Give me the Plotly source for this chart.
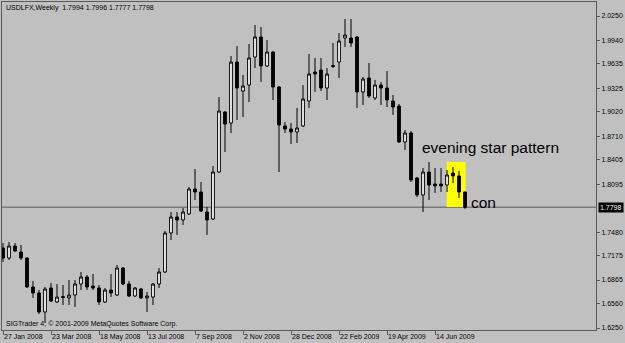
import plotly.graph_objects as go
import pandas as pd

week_start = "2008-01-27"

opens = [1.7276, 1.7147, 1.7301, 1.7224, 1.7147, 1.6776, 1.6699, 1.6455, 1.6763, 1.6583,
         1.6654, 1.6635, 1.6673, 1.6814, 1.6904, 1.6788, 1.6763, 1.6583, 1.6737, 1.6673,
         1.7019, 1.6814, 1.6660, 1.6750, 1.6635, 1.6647, 1.6814, 1.6968, 1.7468, 1.7673,
         1.7635, 1.7712, 1.8032, 1.7994, 1.7737, 1.7647, 1.8250, 1.9019, 1.8878, 1.9660,
         1.9288, 1.9365, 1.9724, 1.9981, 1.9609, 1.9788, 1.9340, 1.8840, 1.8801, 1.8763,
         1.8840, 1.9160, 1.9532, 1.9558, 1.9327, 1.9615, 1.9660, 1.9968, 1.9968, 1.9981,
         1.9276, 1.9455, 1.9199, 1.9365, 1.9327, 1.9160, 1.9096, 1.8635, 1.8750, 1.8173,
         1.7955, 1.8250, 1.8096, 1.8096, 1.8083, 1.8237, 1.8199, 1.7994]

highs = [1.7340, 1.7353, 1.7340, 1.7314, 1.7160, 1.6853, 1.6737, 1.6776, 1.6827, 1.6814,
         1.6801, 1.6865, 1.6865, 1.6968, 1.6929, 1.6942, 1.6801, 1.6763, 1.6942, 1.7058,
         1.7032, 1.6853, 1.6776, 1.6763, 1.6712, 1.6827, 1.7019, 1.7494, 1.7737, 1.7737,
         1.7788, 1.8058, 1.8288, 1.8122, 1.7801, 1.8327, 1.9212, 1.9032, 1.9737, 1.9865,
         1.9494, 1.9891, 2.0135, 2.0109, 1.9942, 1.9801, 1.9353, 1.8891, 1.8878, 1.9071,
         1.9365, 1.9763, 1.9712, 1.9712, 1.9583, 1.9904, 2.0032, 2.0212, 2.0212, 1.9994,
         1.9468, 1.9647, 1.9429, 1.9404, 1.9545, 1.9237, 1.9122, 1.8788, 1.8776, 1.8186,
         1.8301, 1.8378, 1.8301, 1.8301, 1.8276, 1.8314, 1.8263, 1.7996]

lows = [1.7096, 1.7122, 1.7224, 1.7122, 1.6763, 1.6635, 1.6429, 1.6314, 1.6583, 1.6571,
        1.6545, 1.6545, 1.6519, 1.6737, 1.6737, 1.6737, 1.6545, 1.6571, 1.6647, 1.6660,
        1.6801, 1.6647, 1.6647, 1.6622, 1.6455, 1.6545, 1.6763, 1.6955, 1.7378, 1.7442,
        1.7571, 1.7699, 1.7891, 1.7737, 1.7442, 1.7635, 1.8237, 1.8506, 1.8750, 1.8917,
        1.8955, 1.9147, 1.9583, 1.9404, 1.9596, 1.9173, 1.8250, 1.8750, 1.8609, 1.8622,
        1.8827, 1.9071, 1.9276, 1.9288, 1.9173, 1.9583, 1.9455, 1.9853, 1.9853, 1.9071,
        1.9109, 1.9199, 1.9173, 1.9109, 1.9083, 1.8981, 1.8622, 1.8532, 1.8122, 1.7929,
        1.7737, 1.7891, 1.7981, 1.7994, 1.7994, 1.8109, 1.7917, 1.7777]

closes = [1.7147, 1.7301, 1.7237, 1.7147, 1.6776, 1.6699, 1.6455, 1.6750, 1.6596, 1.6647,
          1.6641, 1.6673, 1.6814, 1.6904, 1.6776, 1.6763, 1.6583, 1.6737, 1.6699, 1.7019,
          1.6814, 1.6660, 1.6763, 1.6635, 1.6660, 1.6814, 1.6968, 1.7468, 1.7673, 1.7635,
          1.7737, 1.8032, 1.7994, 1.7750, 1.7635, 1.8250, 1.9032, 1.8865, 1.9660, 1.9327,
          1.9353, 1.9712, 1.9981, 1.9609, 1.9788, 1.9340, 1.8853, 1.8801, 1.8763, 1.8814,
          1.9186, 1.9506, 1.9506, 1.9327, 1.9506, 1.9603, 1.9929, 2.0006, 1.9904, 1.9276,
          1.9442, 1.9224, 1.9365, 1.9327, 1.9173, 1.9083, 1.8635, 1.8750, 1.8147, 1.7955,
          1.8250, 1.8083, 1.8071, 1.8071, 1.8212, 1.8199, 1.7994, 1.7798]

x_tick_labels = ["27 Jan 2008", "23 Mar 2008", "18 May 2008", "13 Jul 2008", "7 Sep 2008",
                 "2 Nov 2008", "28 Dec 2008", "22 Feb 2009", "19 Apr 2009", "14 Jun 2009"]
price_ticks = [2.0250, 1.9940, 1.9635, 1.9325, 1.9020, 1.8710, 1.8405, 1.8095,
               1.7480, 1.7175, 1.6865, 1.6560, 1.6250]
last_price = 1.7798
header = "USDLFX,Weekly  1.7994 1.7996 1.7777 1.7798"
copyright_text = "SIGTrader 4, © 2001-2009 MetaQuotes Software Corp."

dates = pd.date_range(week_start, periods=len(opens), freq="7D")
tick_dates = list(dates[::8])
wk = pd.Timedelta(days=7)

BG = "#C0C0C0"
FRAME = "#5A5A5A"
FONT = "Liberation Sans"

fig = go.Figure(go.Candlestick(
    x=dates, open=opens, high=highs, low=lows, close=closes,
    increasing=dict(line=dict(color="black", width=1), fillcolor="white"),
    decreasing=dict(line=dict(color="black", width=1), fillcolor="black"),
    whiskerwidth=0, showlegend=False, hoverinfo="none",
))

x0 = dates[0] - pd.Timedelta(days=1.17)
x1 = dates[0] + wk * 98.83

fig.update_layout(
    width=625, height=343,
    margin=dict(l=2, r=29, t=2, b=13, autoexpand=False),
    paper_bgcolor=BG, plot_bgcolor=BG,
    font=dict(family=FONT, size=7, color="black"),
    showlegend=False,
    boxgap=0.35,
    xaxis=dict(
        type="date", range=[x0, x1], rangeslider=dict(visible=False),
        tickvals=tick_dates, ticktext=x_tick_labels, tickangle=0, automargin=False,
        ticks="outside", ticklen=4, tickcolor=FRAME, tickwidth=1,
        ticklabelposition="outside right",
        showline=True, linecolor=FRAME, linewidth=1, mirror=True,
        showgrid=False, zeroline=False,
        tickfont=dict(family=FONT, size=7, color="black"),
    ),
    yaxis=dict(
        side="right", range=[1.62244, 2.04295], automargin=False,
        tickvals=price_ticks, ticktext=[f"{v:.4f}" for v in price_ticks],
        ticks="outside", ticklen=3, tickcolor=FRAME, tickwidth=1,
        showline=True, linecolor=FRAME, linewidth=1, mirror=True,
        showgrid=False, zeroline=False,
        tickfont=dict(family=FONT, size=7, color="black"),
    ),
    shapes=[
        dict(type="rect", xref="x", yref="y",
             x0=dates[74] - wk * 0.05, x1=dates[76] + wk * 1.1,
             y0=1.7801, y1=1.8378, fillcolor="#FFFF00", line=dict(width=0),
             layer="below"),
        dict(type="line", xref="paper", yref="y", x0=0, x1=1,
             y0=last_price, y1=last_price,
             line=dict(color="#7A7A7A", width=1.5), layer="below"),
    ],
    annotations=[
        dict(text=header, xref="paper", yref="paper", x=0.0035, y=0.982,
             xanchor="left", yanchor="middle", showarrow=False,
             font=dict(family=FONT, size=7, color="black")),
        dict(text=copyright_text, xref="paper", yref="paper", x=0.0035, y=0.018,
             xanchor="left", yanchor="middle", showarrow=False,
             font=dict(family=FONT, size=7, color="black")),
        dict(text="evening star pattern", xref="paper", yref="y", x=0.703, y=1.8558,
             xanchor="left", yanchor="middle", showarrow=False,
             font=dict(family=FONT, size=15.5, color="black")),
        dict(text="con", xref="paper", yref="y", x=0.786, y=1.7865,
             xanchor="left", yanchor="middle", showarrow=False,
             font=dict(family=FONT, size=15.5, color="black")),
        dict(text=f"{last_price:.4f}", xref="paper", yref="y", x=1, y=last_price,
             xanchor="left", yanchor="middle", xshift=2, showarrow=False,
             bgcolor="black", borderpad=1,
             font=dict(family=FONT, size=7, color="white")),
    ],
)

fig.write_html("out.html", config=dict(displayModeBar=False))
